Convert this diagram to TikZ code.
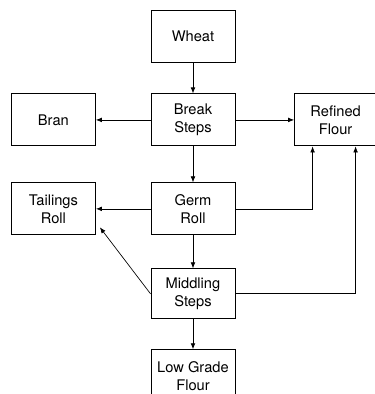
\documentclass[tikz,border=0pt]{standalone}
\usepackage{fontspec}
\setmainfont{TeX Gyre Heros}
\usetikzlibrary{positioning, arrows.meta}

\begin{document}
\begin{tikzpicture}[
    box/.style={draw, line width=0.7pt, minimum width=63pt, minimum height=39pt,
                align=center, font=\fontsize{11}{13.5}\selectfont, inner sep=1pt},
    flow/.style={line width=0.5pt, -{Latex[length=4.5pt, width=3.5pt]}},
  ]
                \useasboundingbox (0,0) rectangle (281.25pt,-295.5pt);
                  \node [box] (wheat) at (144.75pt,-27pt) {Wheat};
                  \node [box, below = 23.25pt of wheat] (break) {Break\\Steps};
                  \node [box, left = 41pt of break] (bran) {Bran};
                  \node [box, right = 44pt of break, minimum width=61.5pt] (refined) {Refined\\Flour};
                  \node [box, below = 27pt of break] (germ) {Germ\\Roll};
                  \node [box, left = 41pt of germ] (tail) {Tailings\\Roll};
                  \node [box, below = 24.75pt of germ, minimum height=37.5pt] (midd) {Middling\\Steps};
                  \node [box, below = 22.5pt of midd] (low) {Low Grade\\Flour};
                  \coordinate (r1) at ([xshift=-17.25pt]refined.south);
                  \coordinate (r2) at ([xshift=15pt]refined.south);
                  \coordinate (t1) at ([xshift=3pt, yshift=6pt]tail.south east);
                  \draw [flow] (wheat) -- (break);
                  \draw [flow] (break) -- (bran);
                  \draw [flow] (break) -- (refined);
                  \draw [flow] (break) -- (germ);
                  \draw [flow] (germ) -- (tail);
                  \draw [flow] (germ.east) -| (r1);
                  \draw [flow] (germ) -- (midd);
                  \draw [flow] (midd.east) -| (r2);
                  \draw [flow] (midd.west) -- (t1);
                  \draw [flow] (midd) -- (low);
\end{tikzpicture}
\end{document}
